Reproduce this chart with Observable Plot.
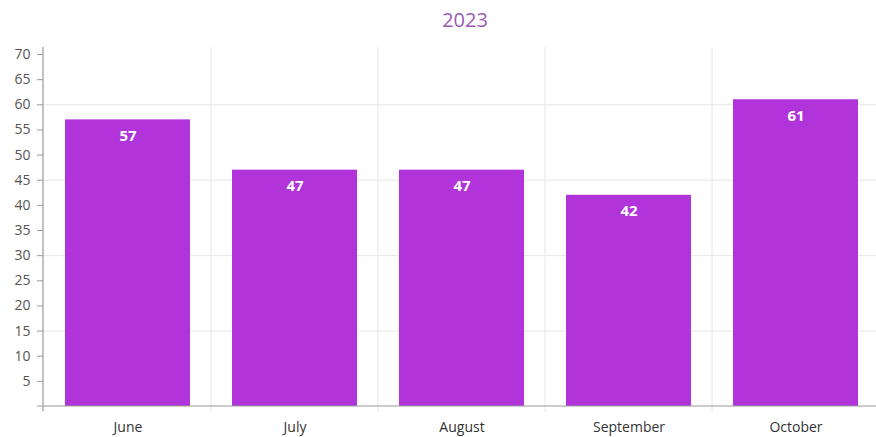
<!DOCTYPE html>
<html>
<head>
<meta charset="utf-8">
<script src="https://cdn.jsdelivr.net/npm/d3@7"></script>
<script src="https://cdn.jsdelivr.net/npm/@observablehq/plot@0.6"></script>
<style>
  body { margin: 0; background: #fff; font-family: "Open Sans", sans-serif; }
  #sub { height: 38px; line-height: 40px; margin-left: 54px; text-align: center; font-size: 20px; color: #9b59b6; }
</style>
</head>
<body>
<div id="sub">2023</div>
<div id="chart"></div>
<script>
const months = ["June", "July", "August", "September", "October"];
const values = [57, 47, 47, 42, 61];
const yTicks = [5, 10, 15, 20, 25, 30, 35, 40, 45, 50, 55, 60, 65, 70];
const gridValues = [15, 30, 45, 60];

const data = months.map((m, i) => ({month: m, value: values[i]}));

const axisGray = "#9a9a9a";
const gridGray = "#e6e6e6";

// vertical gridlines at the boundaries between categories
function bandGrid(index, scales, channels, dims) {
  const x = scales.x;
  const step = x(months[1]) - x(months[0]);
  const bw = x.bandwidth ? x.bandwidth() : step * 0.75;
  const g = d3.create("svg:g");
  for (let i = 1; i < months.length; i++) {
    const bx = (x(months[i - 1]) + bw + x(months[i])) / 2;
    g.append("line")
      .attr("x1", bx).attr("x2", bx)
      .attr("y1", dims.marginTop - 7).attr("y2", dims.height - dims.marginBottom + 6)
      .attr("stroke", gridGray).attr("stroke-width", 1);
  }
  return g.node();
}

// left axis line and baseline
function axisLines(index, scales, channels, dims) {
  const y0 = scales.y(0);
  const g = d3.create("svg:g");
  g.append("line")
    .attr("x1", dims.marginLeft).attr("x2", dims.marginLeft)
    .attr("y1", dims.marginTop - 7).attr("y2", y0 + 5)
    .attr("stroke", axisGray).attr("stroke-width", 1.2);
  g.append("line")
    .attr("x1", dims.marginLeft - 6).attr("x2", dims.width - dims.marginRight)
    .attr("y1", y0).attr("y2", y0)
    .attr("stroke", axisGray).attr("stroke-width", 1.2);
  return g.node();
}

const chart = Plot.plot({
  width: 876,
  height: 399,
  marginTop: 16,
  marginBottom: 31,
  marginLeft: 43,
  marginRight: 0,
  style: { fontFamily: "Open Sans, sans-serif", background: "#fff" },
  x: { domain: months, paddingInner: 0.25, paddingOuter: 0.113, align: 0.55, label: null },
  y: { domain: [0, 70], label: null },
  marks: [
    Plot.ruleY(gridValues, { stroke: gridGray, strokeWidth: 1 }),
    bandGrid,
    Plot.barY(data, { x: "month", y: "value", fill: "#b034da" }),
    Plot.text(data, { x: "month", y: "value", text: d => String(d.value), dy: 16, fill: "#fff", fontWeight: "bold", fontSize: 15 }),
    axisLines,
    Plot.axisY({ ticks: yTicks, tickSize: 6, tickPadding: 7, fontSize: 14, color: "#555", stroke: axisGray, label: null }),
    Plot.axisX({ tickSize: 0, tickPadding: 16, fontSize: 14, color: "#333", label: null })
  ]
});
document.getElementById("chart").append(chart);
</script>
</body>
</html>
